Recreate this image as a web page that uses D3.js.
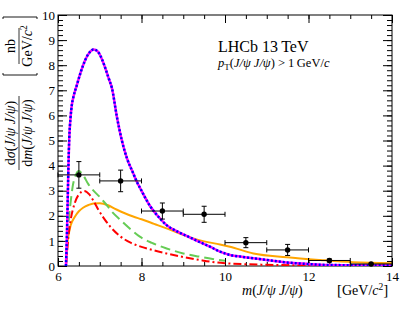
<!DOCTYPE html>
<html>
<head>
<meta charset="utf-8">
<script src="https://cdn.jsdelivr.net/npm/d3@7"></script>
<style>
body { margin: 0; background: #fff; }
text { font-family: "Liberation Serif", "DejaVu Serif", serif; fill: #000; }
</style>
</head>
<body>
<div id="vis"></div>
<script>
//-- Data
var binLow  = [6, 7, 8, 9, 10, 11, 12, 13];
var binHigh = [7, 8, 9, 10, 11, 12, 13, 14];
var xsec    = [3.63, 3.39, 2.19, 2.06, 0.93, 0.64, 0.22, 0.08];
var xsecErr = [0.53, 0.43, 0.32, 0.32, 0.20, 0.22, 0.06, 0.03];

var blueMass  = [6.19, 6.21, 6.23, 6.25, 6.27, 6.30, 6.33, 6.37, 6.45, 6.55, 6.65, 6.75, 6.85, 6.95, 7.05, 7.15, 7.22, 7.29, 7.41, 7.53, 7.65, 7.80, 7.88, 8.0, 8.2, 8.4, 8.6, 8.85, 9.12, 9.4, 9.64, 9.88, 10.12, 10.4, 10.68, 11.0, 11.48, 12.0, 12.28, 13.0, 14.0];
var blueYield = [0, 1.0, 2.4, 4.0, 5.1, 5.9, 6.4, 6.74, 7.2, 7.75, 8.2, 8.5, 8.63, 8.55, 8.25, 7.8, 7.45, 7.1, 5.95, 5.0, 4.3, 3.7, 3.39, 3.0, 2.4, 1.97, 1.63, 1.38, 1.17, 0.95, 0.77, 0.57, 0.44, 0.37, 0.31, 0.24, 0.14, 0.08, 0.05, 0.03, 0.02];

var greenMass  = [6.19, 6.21, 6.25, 6.30, 6.35, 6.42, 6.50, 6.60, 6.73, 6.85, 7.0, 7.13, 7.3, 7.5, 7.75, 7.96, 8.25, 8.6, 9.0, 9.4, 9.7, 10.0];
var greenYield = [0, 0.8, 1.7, 2.5, 3.15, 3.6, 3.78, 3.62, 3.25, 3.0, 2.75, 2.5, 2.15, 1.83, 1.45, 1.17, 0.92, 0.7, 0.5, 0.37, 0.28, 0.21];

var redMass  = [6.19, 6.22, 6.25, 6.30, 6.40, 6.50, 6.63, 6.75, 6.85, 6.97, 7.1, 7.25, 7.5, 7.75, 8.0, 8.3, 8.6, 9.0, 9.4, 9.7, 10.0, 10.5, 11.0, 12.0, 13.0, 14.0];
var redYield = [0, 0.6, 1.17, 1.8, 2.5, 2.85, 2.99, 2.85, 2.6, 2.23, 1.9, 1.57, 1.17, 0.92, 0.76, 0.62, 0.5, 0.36, 0.24, 0.16, 0.11, 0.07, 0.05, 0.02, 0.01, 0.005];

var orangeMass  = [6.19, 6.22, 6.26, 6.30, 6.40, 6.50, 6.60, 6.73, 6.85, 7.0, 7.2, 7.4, 7.6, 7.8, 8.0, 8.3, 8.6, 8.9, 9.16, 9.5, 9.88, 10.12, 10.68, 11.48, 12.28, 13.07, 14.0];
var orangeYield = [0, 0.8, 1.3, 1.6, 1.95, 2.18, 2.32, 2.43, 2.49, 2.5, 2.42, 2.25, 2.1, 1.97, 1.86, 1.68, 1.5, 1.3, 1.14, 0.98, 0.86, 0.77, 0.5, 0.35, 0.24, 0.15, 0.11];

var xMajor = [6, 8, 10, 12, 14];
var yMajor = [0, 1, 2, 3, 4, 5, 6, 7, 8, 9, 10];

//-- Setup
var width = 412;
var height = 318;
var margin = { left: 58, right: 20, top: 15, bottom: 52 };
var serif = '"Liberation Serif", "DejaVu Serif", serif';

var svg = d3.select("#vis").append("svg")
  .attr("width", width)
  .attr("height", height)
  .attr("viewBox", [0, 0, width, height]);

var x = d3.scaleLinear().domain([6, 14]).range([margin.left, width - margin.right]);
var y = d3.scaleLinear().domain([0, 10]).range([height - margin.bottom, margin.top]);

svg.append("clipPath").attr("id", "plotclip")
  .append("rect")
  .attr("x", x(6)).attr("y", y(10))
  .attr("width", x(14) - x(6)).attr("height", y(0) - y(10));

// minor ticks (every 0.5 in x, 0.2 in y) and major ticks, all inward
var xMinor = d3.range(6, 14.01, 0.5);
var yMinor = d3.range(0, 10.01, 0.2);

function styleAxis(g) {
  g.attr("font-family", serif);
  g.select(".domain").remove();
  g.selectAll("line").attr("stroke", "#000");
  g.selectAll("text").style("font-size", "13px").style("font-family", serif).attr("fill", "#000");
}

svg.append("g").attr("transform", "translate(0," + y(0) + ")")
  .call(d3.axisBottom(x).tickValues(xMinor).tickSizeInner(-4).tickSizeOuter(0).tickFormat(""))
  .call(styleAxis);
svg.append("g").attr("transform", "translate(0," + y(0) + ")")
  .call(d3.axisBottom(x).tickValues(xMajor).tickSizeInner(-8).tickSizeOuter(0).tickPadding(6).tickFormat(d3.format("d")))
  .call(styleAxis);
svg.append("g").attr("transform", "translate(0," + y(10) + ")")
  .call(d3.axisTop(x).tickValues(xMinor).tickSizeInner(-4).tickSizeOuter(0).tickFormat(""))
  .call(styleAxis);
svg.append("g").attr("transform", "translate(0," + y(10) + ")")
  .call(d3.axisTop(x).tickValues(xMajor).tickSizeInner(-8).tickSizeOuter(0).tickFormat(""))
  .call(styleAxis);

svg.append("g").attr("transform", "translate(" + x(6) + ",0)")
  .call(d3.axisLeft(y).tickValues(yMinor).tickSizeInner(-5).tickSizeOuter(0).tickFormat(""))
  .call(styleAxis);
svg.append("g").attr("transform", "translate(" + x(6) + ",0)")
  .call(d3.axisLeft(y).tickValues(yMajor).tickSizeInner(-9).tickSizeOuter(0).tickPadding(3).tickFormat(d3.format("d")))
  .call(styleAxis);
svg.append("g").attr("transform", "translate(" + x(14) + ",0)")
  .call(d3.axisRight(y).tickValues(yMinor).tickSizeInner(-5).tickSizeOuter(0).tickFormat(""))
  .call(styleAxis);
svg.append("g").attr("transform", "translate(" + x(14) + ",0)")
  .call(d3.axisRight(y).tickValues(yMajor).tickSizeInner(-9).tickSizeOuter(0).tickFormat(""))
  .call(styleAxis);

// frame
svg.append("rect")
  .attr("x", x(6)).attr("y", y(10))
  .attr("width", x(14) - x(6)).attr("height", y(0) - y(10))
  .attr("fill", "none").attr("stroke", "#000").attr("stroke-width", 1);

//-- Curves
var line = d3.line()
  .x(function(d) { return x(d[0]); })
  .y(function(d) { return y(d[1]); })
  .curve(d3.curveMonotoneX);

var curves = svg.append("g").attr("clip-path", "url(#plotclip)");

curves.append("path").datum(d3.zip(orangeMass, orangeYield))
  .attr("d", line).attr("fill", "none")
  .attr("stroke", "#ffa500").attr("stroke-width", 2);

curves.append("path").datum(d3.zip(greenMass, greenYield))
  .attr("d", line).attr("fill", "none")
  .attr("stroke", "#66cc55").attr("stroke-width", 2)
  .attr("stroke-dasharray", "10,5");

curves.append("path").datum(d3.zip(redMass, redYield))
  .attr("d", line).attr("fill", "none")
  .attr("stroke", "#ff0000").attr("stroke-width", 2)
  .attr("stroke-dasharray", "8,3,2,3");

curves.append("path").datum(d3.zip(blueMass, blueYield))
  .attr("d", line).attr("fill", "none")
  .attr("stroke", "#ff00ff").attr("stroke-width", 2.5);

curves.append("path").datum(d3.zip(blueMass, blueYield))
  .attr("d", line).attr("fill", "none")
  .attr("stroke", "#0000ff").attr("stroke-width", 2.5)
  .attr("stroke-dasharray", "2,2");

//-- Data points
var points = d3.range(xsec.length).map(function(i) {
  return { lo: binLow[i], hi: binHigh[i], v: xsec[i], e: xsecErr[i] };
});

var pg = svg.append("g").selectAll("g").data(points).enter().append("g");

pg.append("line")
  .attr("x1", function(d) { return x(d.lo); })
  .attr("x2", function(d) { return x(d.hi); })
  .attr("y1", function(d) { return y(d.v); })
  .attr("y2", function(d) { return y(d.v); })
  .attr("stroke", "#000").attr("stroke-width", 1);
pg.append("line")
  .attr("x1", function(d) { return x(d.lo); })
  .attr("x2", function(d) { return x(d.lo); })
  .attr("y1", function(d) { return y(d.v) - 2.5; })
  .attr("y2", function(d) { return y(d.v) + 2.5; })
  .attr("stroke", "#000").attr("stroke-width", 1);
pg.append("line")
  .attr("x1", function(d) { return x(d.hi); })
  .attr("x2", function(d) { return x(d.hi); })
  .attr("y1", function(d) { return y(d.v) - 2.5; })
  .attr("y2", function(d) { return y(d.v) + 2.5; })
  .attr("stroke", "#000").attr("stroke-width", 1);
pg.append("line")
  .attr("x1", function(d) { return x((d.lo + d.hi) / 2); })
  .attr("x2", function(d) { return x((d.lo + d.hi) / 2); })
  .attr("y1", function(d) { return y(d.v + d.e); })
  .attr("y2", function(d) { return y(d.v - d.e); })
  .attr("stroke", "#000").attr("stroke-width", 1);
pg.selectAll(".cap").data(function(d) { return [d.v + d.e, d.v - d.e].map(function(v) { return { m: (d.lo + d.hi) / 2, v: v }; }); })
  .enter().append("line").attr("class", "cap")
  .attr("x1", function(d) { return x(d.m) - 2.5; })
  .attr("x2", function(d) { return x(d.m) + 2.5; })
  .attr("y1", function(d) { return y(d.v); })
  .attr("y2", function(d) { return y(d.v); })
  .attr("stroke", "#000").attr("stroke-width", 1);
pg.append("circle")
  .attr("cx", function(d) { return x((d.lo + d.hi) / 2); })
  .attr("cy", function(d) { return y(d.v); })
  .attr("r", 2.7).attr("fill", "#000");

//-- Texts
var t1 = svg.append("text").attr("x", 218).attr("y", 51.5).style("font-size", "16px");
t1.append("tspan").text("LHCb 13\u2009TeV");

var t2 = svg.append("text").attr("x", 218).attr("y", 67).style("font-size", "12.5px");
t2.append("tspan").style("font-style", "italic").text("p");
t2.append("tspan").attr("dy", 2.5).style("font-size", "9px").text("T");
t2.append("tspan").attr("dy", -2.5).text("(");
t2.append("tspan").style("font-style", "italic").text("J/\u03c8 J/\u03c8");
t2.append("tspan").text(") > 1\u2009GeV/");
t2.append("tspan").style("font-style", "italic").text("c");

// x axis title
var xt = svg.append("text").attr("x", 242).attr("y", 295).style("font-size", "14px");
xt.append("tspan").style("font-style", "italic").text("m");
xt.append("tspan").text("(");
xt.append("tspan").style("font-style", "italic").text("J/\u03c8 J/\u03c8");
xt.append("tspan").text(")");

var xu = svg.append("text").attr("x", 337).attr("y", 295).style("font-size", "14px");
xu.append("tspan").style("font-size", "15px").text("[");
xu.append("tspan").text("GeV/");
xu.append("tspan").style("font-style", "italic").text("c");
xu.append("tspan").attr("dy", -5).style("font-size", "9.5px").text("2");
xu.append("tspan").attr("dy", 5).style("font-size", "15px").text("]");

// y axis title (rotated fraction)
var yl = svg.append("g").attr("transform", "translate(19,0) rotate(-90)");

var num = yl.append("text").attr("x", -133).attr("y", -4.5)
  .attr("text-anchor", "middle").style("font-size", "14px");
num.append("tspan").text("d");
num.append("tspan").style("font-style", "italic").text("\u03c3");
num.append("tspan").text("(");
num.append("tspan").style("font-style", "italic").text("J/\u03c8 J/\u03c8");
num.append("tspan").text(")");

var den = yl.append("text").attr("x", -133).attr("y", 12.5)
  .attr("text-anchor", "middle").style("font-size", "14px");
den.append("tspan").text("d");
den.append("tspan").style("font-style", "italic").text("m");
den.append("tspan").text("(");
den.append("tspan").style("font-style", "italic").text("J/\u03c8 J/\u03c8");
den.append("tspan").text(")");

yl.append("line").attr("x1", -170).attr("x2", -96).attr("y1", 0).attr("y2", 0)
  .attr("stroke", "#000").attr("stroke-width", 0.8);

yl.append("text").attr("x", -46).attr("y", -4.5)
  .attr("text-anchor", "middle").style("font-size", "14px").text("nb");
var gu = yl.append("text").attr("x", -46).attr("y", 12.5)
  .attr("text-anchor", "middle").style("font-size", "14px");
gu.append("tspan").text("GeV/");
gu.append("tspan").style("font-style", "italic").text("c");
gu.append("tspan").attr("dy", -5).style("font-size", "9.5px").text("2");

yl.append("line").attr("x1", -64).attr("x2", -28).attr("y1", 0).attr("y2", 0)
  .attr("stroke", "#000").attr("stroke-width", 0.8);

// brackets around the unit
yl.append("path").attr("d", "M-73,-16 L-75,-16 L-75,18 L-73,18")
  .attr("fill", "none").attr("stroke", "#000").attr("stroke-width", 0.9);
yl.append("path").attr("d", "M-19,-16 L-17,-16 L-17,18 L-19,18")
  .attr("fill", "none").attr("stroke", "#000").attr("stroke-width", 0.9);
</script>
</body>
</html>
